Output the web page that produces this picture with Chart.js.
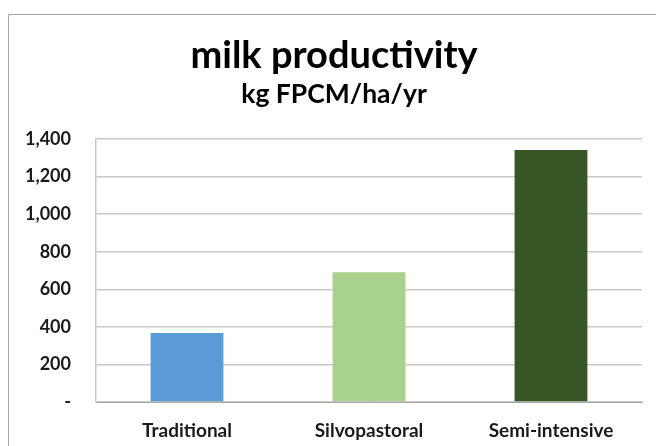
<!DOCTYPE html>
<html>
<head>
<meta charset="utf-8">
<script src="https://cdn.jsdelivr.net/npm/chart.js@4"></script>
<style>
  html, body { margin: 0; padding: 0; background: #fff; }
  #wrap { width: 656px; height: 446px; }
</style>
</head>
<body>
<div id="wrap"><canvas id="chart" width="656" height="446"></canvas></div>
<script>
const categories = ["Traditional", "Silvopastoral", "Semi-intensive"]
const productivity = [367, 691, 1342]
const barColors = ["#5B9BD5", "#A9D18E", "#375623"]
const yTicks = [0, 200, 400, 600, 800, 1000, 1200, 1400]

const font = "Lato, 'Open Sans', sans-serif"

// light gray frame of the chart object, cut off at right and bottom
const frame = {
  id: "frame",
  beforeDraw(chart) {
    const ctx = chart.ctx
    ctx.save()
    ctx.strokeStyle = "#A6A6A6"
    ctx.lineWidth = 1
    ctx.beginPath()
    ctx.moveTo(8.5, chart.height)
    ctx.lineTo(8.5, 14.5)
    ctx.lineTo(chart.width, 14.5)
    ctx.stroke()
    ctx.restore()
  }
}

new Chart(document.getElementById("chart"), {
  type: "bar",
  data: {
    labels: categories,
    datasets: [
      {
        label: "milk productivity",
        data: productivity,
        backgroundColor: barColors,
        borderWidth: 0,
        categoryPercentage: 1,
        barPercentage: 0.4
      }
    ]
  },
  options: {
    responsive: false,
    animation: false,
    layout: {
      padding: { top: 18, right: 14, bottom: 4, left: 26 }
    },
    scales: {
      x: {
        afterFit: (axis) => { axis.height = 40 },
        grid: { display: false, drawTicks: false },
        border: { color: "#A6A6A6", width: 1 },
        ticks: {
          color: "#1a1a1a",
          padding: 17,
          maxRotation: 0,
          font: { family: font, size: 19, weight: "bold" }
        }
      },
      y: {
        min: 0,
        max: 1400,
        afterFit: (axis) => { axis.width = 70 },
        afterBuildTicks: (axis) => { axis.ticks = yTicks.map(v => ({ value: v })) },
        grid: { color: "#C8C8C8", lineWidth: 1.5, drawTicks: false },
        border: { color: "#C8C8C8", width: 1.5 },
        ticks: {
          color: "#1a1a1a",
          padding: 25,
          font: { family: font, size: 18, weight: "bold" },
          callback: (value) => value === 0 ? "-" : value.toLocaleString("en-US")
        }
      }
    },
    plugins: {
      legend: { display: false },
      tooltip: { enabled: false },
      title: {
        display: true,
        text: "milk productivity",
        color: "#000",
        font: { family: font, size: 38, weight: "bold" },
        padding: { top: 15, bottom: 0 }
      },
      subtitle: {
        display: true,
        text: "kg FPCM/ha/yr",
        color: "#000",
        font: { family: font, size: 26.5, weight: "bold" },
        padding: { top: 0, bottom: 28.6 }
      }
    }
  },
  plugins: [frame]
})
</script>
</body>
</html>
